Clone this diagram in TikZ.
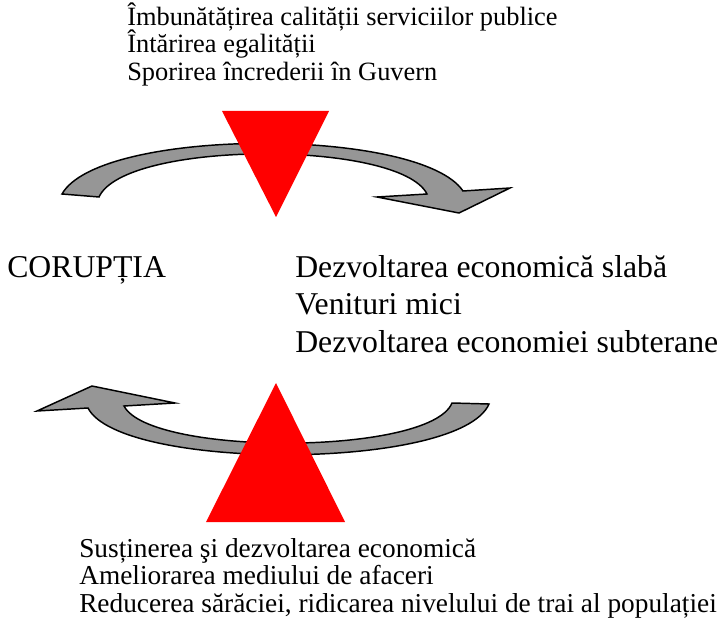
\documentclass[tikz,border=0pt]{standalone}
\usepackage{fontspec}
\setmainfont{Liberation Serif}
\definecolor{arrowgray}{RGB}{150,150,150}
\tikzstyle{band}=[draw=black, fill=arrowgray, line width=1.1pt, line join=miter]
\tikzstyle{wedge}=[fill=red, draw=none]
\tikzstyle{small}=[anchor=base west, inner sep=0pt, font=\fontsize{19.8}{24}\selectfont]
\tikzstyle{low}=[anchor=base west, inner sep=0pt, font=\fontsize{20.5}{24}\selectfont]
\tikzstyle{big}=[anchor=base west, inner sep=0pt, font=\fontsize{23.8}{28}\selectfont]

\begin{document}
\begin{tikzpicture}[x=0.75pt,y=-0.75pt]
\useasboundingbox (0,0) rectangle (724,627);

% upper arrow, pointing right
\draw[band] (62,194) .. controls (100,127) and (420,127) .. (463,191)
  -- (510,188) -- (459,213) -- (377,197) -- (427,194)
  .. controls (400,140) and (125,140) .. (99,197) -- cycle;
% lower arrow, pointing left
\draw[band] (489,404) .. controls (460,471) and (120,471) .. (88,408)
  -- (37,411) -- (92,386) -- (175,403) -- (124,406)
  .. controls (150,456) and (430,456) .. (452,403) -- cycle;

% triangles
\coordinate (tA) at (222,111);
\coordinate (tB) at (329,111);
\coordinate (tC) at (276,217);
\fill[wedge] (tA) -- (tB) -- (tC) -- cycle;
\coordinate (bA) at (276,383);
\coordinate (bB) at (345,522);
\coordinate (bC) at (206,522);
\fill[wedge] (bA) -- (bB) -- (bC) -- cycle;

% texts above
\node (up1) [small] at (127,26) {Îmbunătățirea calității serviciilor publice};
\node (up2) [small] at (127,53) {Întărirea egalității};
\node (up3) [small] at (127,81) {Sporirea încrederii în Guvern};

% middle
\node (cor) [big] at (7,277) {CORUPȚIA};
\node (mid1) [big] at (295,277) {Dezvoltarea economică slabă};
\node (mid2) [big] at (295,314) {Venituri mici};
\node (mid3) [big] at (295,352) {Dezvoltarea economiei subterane};

% texts below
\node (low1) [low] at (79,557) {Susținerea şi dezvoltarea economică};
\node (low2) [low] at (79,584) {Ameliorarea mediului de afaceri};
\node (low3) [low] at (79,612) {Reducerea sărăciei, ridicarea nivelului de trai al populației};
\end{tikzpicture}
\end{document}
